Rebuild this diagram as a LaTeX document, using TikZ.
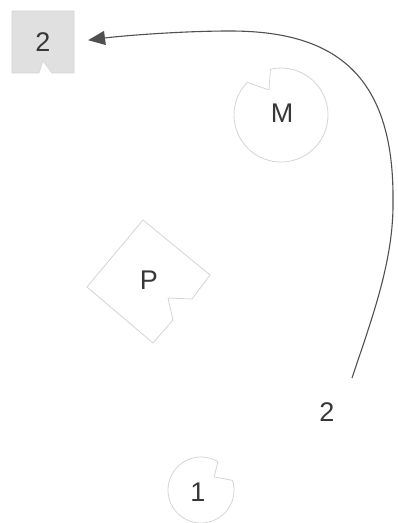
\documentclass[tikz,border=0pt]{standalone}
\usepackage{fontspec}
\setmainfont{Liberation Sans}
\usetikzlibrary{calc,arrows.meta}
\definecolor{pathGray}{RGB}{80,80,80}
\definecolor{shapeGray}{RGB}{212,212,212}
\definecolor{fillGray}{RGB}{224,224,224}
\definecolor{labelGray}{RGB}{55,55,55}

\begin{document}
\begin{tikzpicture}[x=1pt,y=1pt,
  outline/.style={draw=shapeGray, line width=0.8pt, line join=round},
  lbl/.style={text=labelGray, font=\fontsize{27}{30}\selectfont, inner sep=0pt}]
\useasboundingbox (0,0) rectangle (398,523);
% target square, notched
\filldraw[fill=fillGray, draw=shapeGray, line width=0.6pt] (12,512) -- (74,512) -- (74,450) -- (52,450) -- (43,462) -- (39,450) -- (12,450) -- cycle;
\node[lbl, minimum size=62pt] (goal) at (43,481) {2};
% M disc
\coordinate (mc) at (281,408);
\draw[outline] ($(mc)+(136:47)$) arc[start angle=136, end angle=463, radius=47] -- ($(mc)+(-12,25)$) -- cycle;
\node[lbl] (m) at (282,410) {M};
% P tile
\draw[outline] (143,303) -- (210,248) -- (192,224) -- (168,225) -- (173,203) -- (153,180) -- (87,236) -- cycle;
\node[lbl] (p) at (149,243) {P};
% disc 1
\coordinate (oc) at (201,33);
\draw[outline] ($(oc)+(59:33)$) arc[start angle=59, end angle=377, radius=33] -- ($(oc)+(13,13)$) -- cycle;
\node[lbl] (one) at (198,31) {1};
% move of piece 2
\coordinate (tail) at (352,145);
\node[lbl] (two) at (327,111) {2};
\draw[-{Triangle[length=17pt,width=14pt]}, pathGray, line width=1.1pt, shorten >=14pt]
  (tail) .. controls (372,205) and (394,263) .. (393,323)
  .. controls (394,453) and (330,492) .. (230,492)
  .. controls (180,492) and (120,487) .. (goal.east);
\end{tikzpicture}
\end{document}
